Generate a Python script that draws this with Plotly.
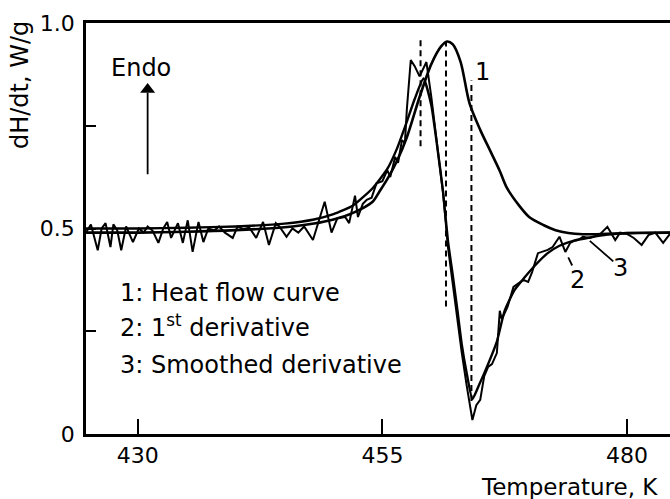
import plotly.graph_objects as go

# ---- data ----
heat_T = [424.7, 430, 435, 440, 445, 448, 450, 452, 454, 454.7, 455.5, 456.5, 457.5, 458.8, 460, 461, 461.6,
          462.2, 463, 463.9, 465, 466, 467, 467.7, 469, 470, 471.5, 472.7, 474, 475.5, 478, 481, 484.4]
heat_V = [0.49, 0.49, 0.492, 0.496, 0.503, 0.512, 0.522, 0.538, 0.565, 0.59, 0.62, 0.665, 0.722, 0.82, 0.9, 0.943, 0.955,
          0.948, 0.905, 0.805, 0.74, 0.69, 0.64, 0.60, 0.555, 0.528, 0.508, 0.496, 0.489, 0.486, 0.487, 0.489, 0.49]

smooth_T = [424.7, 430, 435, 440, 445, 448, 450, 452, 454, 455.5, 456.5, 457.5, 458.3, 459.2, 460, 460.6, 461.2,
            461.7, 462.2, 462.7, 463.1, 463.6, 464.2, 464.8, 465.8, 466.7, 467.5, 468.5, 469.5, 470.6, 471.9,
            473.1, 474.5, 476.2, 478, 480, 484.4]
smooth_V = [0.50, 0.50, 0.502, 0.505, 0.512, 0.522, 0.535, 0.556, 0.598, 0.645, 0.695, 0.76, 0.815, 0.865, 0.80, 0.70, 0.59,
            0.47, 0.385, 0.295, 0.22, 0.15, 0.085, 0.115, 0.17, 0.225, 0.30, 0.35, 0.38, 0.41, 0.44,
            0.458, 0.47, 0.478, 0.485, 0.489, 0.49]

deriv_T = [424.7, 425.2, 425.9, 426.3, 426.7, 427.2, 427.5, 427.9, 428.3, 428.8, 429.5, 430.1, 430.6, 431.0, 431.5,
           432.1, 432.6, 433.0, 433.4, 434.1, 434.6, 435.1, 435.6, 436.2, 436.7, 437.2, 437.8, 438.3, 438.9, 439.7,
           440.2, 440.8, 441.4, 442.1, 442.8, 443.4, 444.1, 444.5, 445.2, 445.8, 446.4, 447.0, 447.9, 448.5, 449.1,
           449.8, 450.4, 451.2, 451.6, 452.2, 452.5, 453.0, 453.4, 453.9, 454.4, 455.0, 455.5, 455.8, 456.3, 456.6,
           457.0, 457.3, 457.5, 457.9, 458.3, 458.8, 459.5, 460.0, 460.6, 461.2, 461.7, 462.2, 462.6, 463.1, 463.6,
           464.2, 464.6, 465.0, 465.4, 465.8, 466.2, 466.7, 467.0, 467.2, 467.5, 467.8, 468.4, 468.9, 469.4, 469.9,
           470.3, 470.9, 471.3, 471.9, 472.4, 473.1, 473.7, 474.2, 474.6, 475.0, 475.5, 476.2, 477.2, 478.0, 478.8,
           479.3, 480.0, 480.7, 481.5, 482.2, 482.9, 483.7, 484.4]
deriv_V = [0.49, 0.51, 0.447, 0.50, 0.513, 0.455, 0.51, 0.495, 0.447, 0.505, 0.467, 0.50, 0.49, 0.505, 0.495,
           0.465, 0.50, 0.516, 0.477, 0.513, 0.465, 0.52, 0.443, 0.516, 0.467, 0.50, 0.495, 0.505, 0.49, 0.477,
           0.505, 0.498, 0.502, 0.477, 0.516, 0.46, 0.513, 0.504, 0.48, 0.50, 0.49, 0.505, 0.472, 0.52, 0.565,
           0.49, 0.525, 0.528, 0.513, 0.58, 0.528, 0.56, 0.57, 0.575, 0.61, 0.615, 0.642, 0.625, 0.674, 0.66,
           0.715, 0.708, 0.79, 0.91, 0.895, 0.87, 0.905, 0.82, 0.70, 0.586, 0.455, 0.36, 0.29, 0.20, 0.12,
           0.034, 0.07, 0.083, 0.14, 0.163, 0.17, 0.197, 0.30, 0.28, 0.294, 0.31, 0.358, 0.367, 0.375, 0.37,
           0.394, 0.44, 0.443, 0.448, 0.455, 0.48, 0.443, 0.465, 0.47, 0.472, 0.48, 0.477, 0.485, 0.504, 0.472,
           0.49, 0.487, 0.477, 0.46, 0.484, 0.49, 0.465, 0.487]

x_tickvals = [430, 455, 480]
x_ticktext = ["430", "455", "480"]
y_tickvals = [0, 0.5, 1.0]
y_ticktext = ["0", "0.5", "1.0"]
y_minor_tickvals = [0.25, 0.75]

dash_T = [458.9, 461.5, 464.1]
dash_lo = [0.70, 0.31, 0.08]
dash_hi = [0.96, 0.955, 0.86]

legend_lines = ["1: Heat flow curve", "2: 1<sup>st</sup> derivative", "3: Smoothed derivative"]
legend_V = [0.343, 0.262, 0.168]

FONT = "DejaVu Sans"
BLACK = "#000000"

fig = go.Figure()
fig.add_trace(go.Scatter(x=heat_T, y=heat_V, mode="lines", line=dict(color=BLACK, width=2.6, shape="spline", smoothing=0.8),
                         showlegend=False, hoverinfo="skip"))
fig.add_trace(go.Scatter(x=smooth_T, y=smooth_V, mode="lines", line=dict(color=BLACK, width=2.4, shape="spline", smoothing=0.5),
                         showlegend=False, hoverinfo="skip"))
fig.add_trace(go.Scatter(x=deriv_T, y=deriv_V, mode="lines", line=dict(color=BLACK, width=2.0),
                         showlegend=False, hoverinfo="skip"))

for t, lo, hi in zip(dash_T, dash_lo, dash_hi):
    fig.add_shape(type="line", x0=t, x1=t, y0=lo, y1=hi, xref="x", yref="y",
                  line=dict(color=BLACK, width=2, dash="6px,4px"))

# leader lines for labels 2 and 3
fig.add_shape(type="line", x0=476.2, y0=0.47, x1=478.6, y1=0.42, xref="x", yref="y", line=dict(color=BLACK, width=1.8))
fig.add_shape(type="line", x0=474.0, y0=0.43, x1=474.4, y1=0.41, xref="x", yref="y", line=dict(color=BLACK, width=1.8))

# Endo arrow (line + triangle head)
fig.add_shape(type="line", x0=431.0, x1=431.0, y0=0.632, y1=0.83, xref="x", yref="y", line=dict(color=BLACK, width=1.8))
fig.add_trace(go.Scatter(x=[431.0], y=[0.838], mode="markers",
                         marker=dict(symbol="triangle-up", size=13, color=BLACK),
                         showlegend=False, hoverinfo="skip"))

ann_font = dict(family=FONT, size=24, color=BLACK)
for txt, v in zip(legend_lines, legend_V):
    fig.add_annotation(x=428.0, y=v, text=txt, showarrow=False, xanchor="left", yanchor="middle", font=ann_font)

fig.add_annotation(x=465.2, y=0.88, text="1", showarrow=False, font=ann_font)
fig.add_annotation(x=474.9, y=0.375, text="2", showarrow=False, font=ann_font)
fig.add_annotation(x=479.3, y=0.405, text="3", showarrow=False, font=ann_font)
fig.add_annotation(x=430.3, y=0.89, text="Endo", showarrow=False, font=ann_font)

fig.add_annotation(xref="paper", yref="paper", x=0.983, y=-0.129, text="Temperature, K", showarrow=False,
                   xanchor="right", yanchor="middle", font=dict(family=FONT, size=23, color=BLACK))
fig.add_annotation(xref="paper", yref="paper", x=-0.113, y=0.849, text="dH/dt, W/g", showarrow=False,
                   textangle=-90, xanchor="center", yanchor="middle", font=dict(family=FONT, size=24, color=BLACK))

fig.update_layout(
    width=670, height=499,
    margin=dict(l=86, r=0, t=23, b=65),
    paper_bgcolor="white", plot_bgcolor="white",
    font=dict(family=FONT, size=22, color=BLACK),
    xaxis=dict(range=[424.7, 484.4], showline=True, linecolor=BLACK, linewidth=2.5, mirror=True,
               ticks="inside", ticklen=15, tickwidth=2, tickcolor=BLACK,
               tickvals=x_tickvals, ticktext=x_ticktext, showgrid=False, zeroline=False),
    yaxis=dict(range=[0, 1.0], showline=True, linecolor=BLACK, linewidth=2.5,
               ticks="inside", ticklen=10, tickwidth=2, tickcolor=BLACK,
               tickvals=y_tickvals, ticktext=y_ticktext, showgrid=False, zeroline=False,
               ticklabelstandoff=4,
               minor=dict(tickvals=y_minor_tickvals, ticks="inside", ticklen=10, tickwidth=2,
                          tickcolor=BLACK, showgrid=False)),
)

fig.write_html("out.html", config={"displayModeBar": False},
               post_script="document.body.style.margin='0';document.body.style.overflow='hidden';")
